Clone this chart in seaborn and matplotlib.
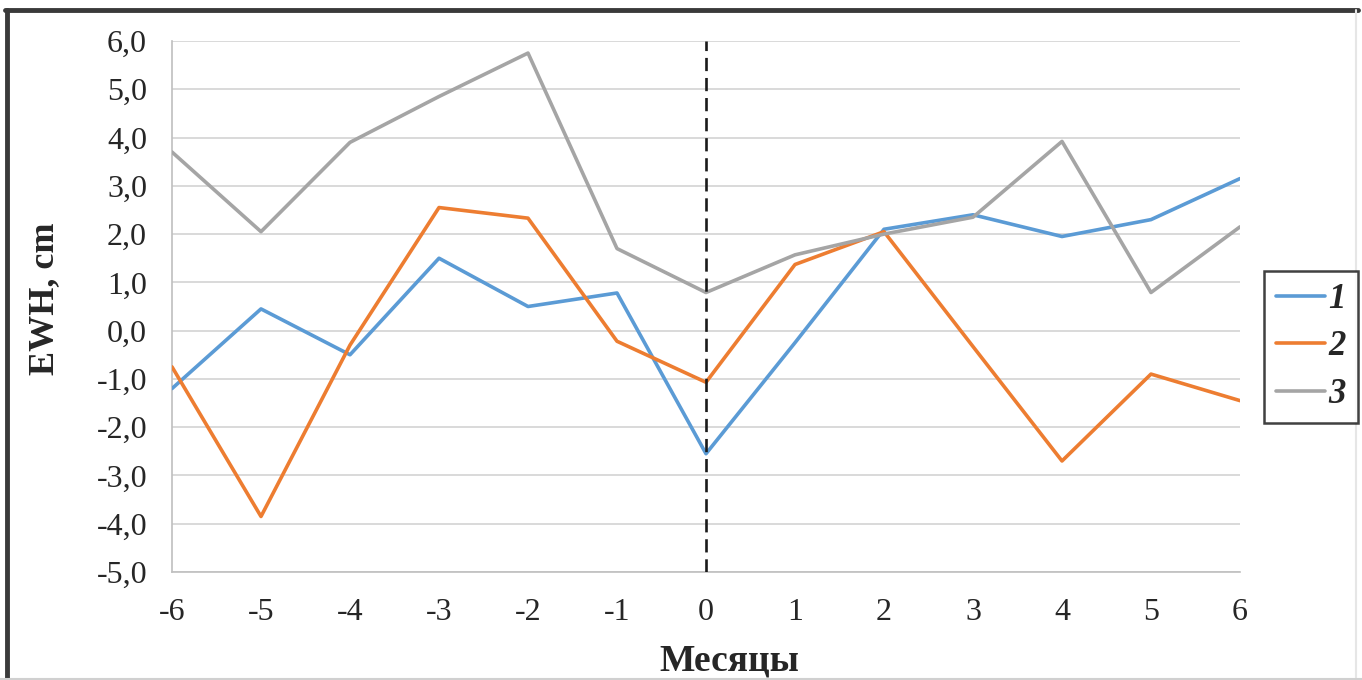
import numpy as np
import pandas as pd
import matplotlib
matplotlib.use("Agg")
import matplotlib.pyplot as plt
import seaborn as sns
from matplotlib.lines import Line2D

months = [-6, -5, -4, -3, -2, -1, 0, 1, 2, 3, 4, 5, 6]
series_1 = [-1.2, 0.45, -0.5, 1.5, 0.5, 0.78, -2.55, -0.25, 2.1, 2.4, 1.95, 2.3, 3.15]
series_2 = [-0.75, -3.85, -0.3, 2.55, 2.33, -0.22, -1.07, 1.37, 2.05, -0.33, -2.7, -0.9, -1.45]
series_3 = [3.7, 2.05, 3.9, 4.85, 5.75, 1.7, 0.79, 1.57, 2.0, 2.35, 3.92, 0.79, 2.15]
series_names = ["1", "2", "3"]
colors = ["#5B9BD5", "#ED7D31", "#A5A5A5"]
y_ticks = [6, 5, 4, 3, 2, 1, 0, -1, -2, -3, -4, -5]
y_tick_labels = ["6,0", "5,0", "4,0", "3,0", "2,0", "1,0", "0,0", "-1,0", "-2,0", "-3,0", "-4,0", "-5,0"]
x_label = "Месяцы"
y_label = "EWH, cm"

df = pd.DataFrame({
    "month": months * 3,
    "value": series_1 + series_2 + series_3,
    "series": [series_names[0]] * len(months) + [series_names[1]] * len(months) + [series_names[2]] * len(months),
})

sns.set_theme(style="white")
plt.rcParams["font.family"] = ["Liberation Serif", "DejaVu Serif"]

fig = plt.figure(figsize=(13.62, 6.8), dpi=100)
ax = fig.add_axes([172 / 1362, 1 - 572 / 680, (1240 - 172) / 1362, (572 - 41) / 680])

for yv in y_ticks:
    ax.axhline(yv, color="#d9d9d9", lw=1.4, zorder=0)

sns.lineplot(data=df, x="month", y="value", hue="series", palette=colors,
             linewidth=2.6, ax=ax, legend=False, zorder=3)

ax.axvline(0, color="#1a1a1a", lw=1.9, ls=(0, (5, 2.6)), zorder=4)

ax.set_xlim(-6, 6)
ax.set_ylim(-5, 6)
ax.set_xticks(months)
ax.set_xticklabels([str(m) for m in months], fontsize=23)
ax.set_yticks(y_ticks)
ax.set_yticklabels(y_tick_labels, fontsize=23)

for s in ["top", "right"]:
    ax.spines[s].set_visible(False)
for s in ["left", "bottom"]:
    ax.spines[s].set_color("#bfbfbf")
    ax.spines[s].set_linewidth(1.2)
ax.tick_params(axis="x", direction="out", length=9, width=1.2, color="#bfbfbf", pad=10, labelcolor="#262626")
ax.tick_params(axis="y", direction="out", length=10, width=1.2, color="#d9d9d9", pad=8, labelcolor="#262626")

ax.set_xlabel(x_label, fontsize=27, fontweight="bold", va="center")
ax.xaxis.set_label_coords(0.522, -0.168)
ax.set_ylabel(y_label, fontsize=26, fontweight="bold", va="center")
ax.yaxis.set_label_coords(-0.119, 0.515)

handles = [Line2D([0], [0], color=c, lw=2.6) for c in colors]
leg = fig.legend(handles, series_names, loc="center left",
                 bbox_to_anchor=(1264 / 1362, 1 - 347 / 680),
                 frameon=True, fancybox=False, edgecolor="#111111",
                 handlelength=1.4, handletextpad=0.1, borderpad=0.35,
                 labelspacing=0.42, borderaxespad=0,
                 prop={"size": 25, "weight": "bold", "style": "italic"})
leg.get_frame().set_linewidth(1.8)

# outer frame of the picture
fig.add_artist(Line2D([0.004, 0.997], [1 - 10 / 680, 1 - 10 / 680], transform=fig.transFigure,
                      color="#3a3a3a", lw=3.5))
fig.add_artist(Line2D([6.5 / 1362, 6.5 / 1362], [0, 1 - 10 / 680], transform=fig.transFigure,
                      color="#3a3a3a", lw=3.5))
fig.add_artist(Line2D([1356 / 1362, 1356 / 1362], [0, 1 - 10 / 680], transform=fig.transFigure,
                      color="#e6e6e6", lw=1.5))
fig.add_artist(Line2D([0, 1], [1.5 / 680, 1.5 / 680], transform=fig.transFigure,
                      color="#d0d0d0", lw=1.5))

fig.savefig("out.png", dpi=100)
